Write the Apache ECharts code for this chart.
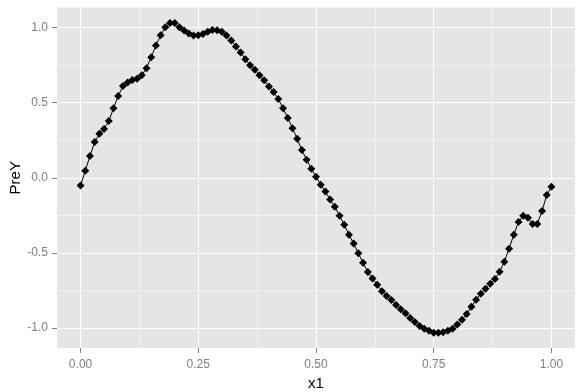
<!DOCTYPE html>
<html><head><meta charset="utf-8">
<script src="https://cdn.jsdelivr.net/npm/echarts@6/dist/echarts.min.js"></script>
<style>html,body{margin:0;padding:0;background:#fff}#c{width:580px;height:392px}</style>
</head><body><div id="c"></div>
<script>
var x1 = [];
for (var i = 0; i <= 100; i++) x1.push(i / 100);
var preY = [-0.052,0.047,0.144,0.237,0.292,0.325,0.378,0.462,0.544,0.610,
0.634,0.650,0.659,0.681,0.729,0.802,0.879,0.948,1.001,1.030,
1.030,1.001,0.979,0.959,0.946,0.948,0.957,0.972,0.983,0.981,
0.972,0.946,0.913,0.873,0.833,0.789,0.749,0.719,0.681,0.648,
0.607,0.570,0.524,0.462,0.398,0.330,0.259,0.184,0.120,0.060,
0.007,-0.046,-0.092,-0.145,-0.193,-0.253,-0.313,-0.379,-0.438,-0.503,
-0.566,-0.627,-0.671,-0.711,-0.755,-0.786,-0.813,-0.846,-0.875,-0.902,
-0.933,-0.959,-0.986,-1.004,-1.017,-1.031,-1.031,-1.028,-1.017,-1.004,
-0.977,-0.944,-0.906,-0.858,-0.811,-0.771,-0.738,-0.705,-0.674,-0.625,
-0.558,-0.472,-0.379,-0.295,-0.253,-0.266,-0.308,-0.308,-0.221,-0.115,
-0.060];
var xTicks = [0, 0.25, 0.5, 0.75, 1];
var xMinor = [0.125, 0.375, 0.625, 0.875];
var yTicks = [-1, -0.5, 0, 0.5, 1];
var yMinor = [-0.75, -0.25, 0.25, 0.75];

var data = x1.map(function (x, i) { return [x, preY[i]]; });
var XMIN = -0.05, XMAX = 1.05, YMIN = -1.1325, YMAX = 1.1325;
var font = 'Liberation Sans, Arial, sans-serif';

var chart = echarts.init(document.getElementById('c'), null, {renderer: 'canvas'});
chart.setOption({
  animation: false,
  backgroundColor: '#ffffff',
  grid: {left: 57, right: 5, top: 7.5, bottom: 44, show: true, backgroundColor: '#E5E5E5', borderWidth: 0,
    containLabel: false, outerBoundsMode: 'none'},
  xAxis: [{
    type: 'value', min: XMIN, max: XMAX, gridIndex: 0, position: 'bottom',
    axisLine: {show: false, onZero: false},
    axisTick: {show: false, customValues: xMinor},
    axisLabel: {show: false, customValues: xMinor},
    splitLine: {show: true, lineStyle: {color: '#F2F2F2', width: 1}}
  }, {
    type: 'value', min: XMIN, max: XMAX, gridIndex: 0, position: 'bottom',
    name: 'x1', nameLocation: 'middle', nameGap: 27,
    nameTextStyle: {color: '#000', fontSize: 15, fontFamily: font},
    axisLine: {show: false, onZero: false},
    axisTick: {show: true, length: 5, customValues: xTicks, lineStyle: {color: '#7F7F7F'}},
    axisLabel: {show: true, customValues: xTicks, color: '#7F7F7F', fontSize: 12, fontFamily: font, margin: 11,
      formatter: function (v) { return v.toFixed(2); }},
    splitLine: {show: true, lineStyle: {color: '#FFFFFF', width: 1}}
  }],
  yAxis: [{
    type: 'value', min: YMIN, max: YMAX, gridIndex: 0, position: 'left',
    axisLine: {show: false, onZero: false},
    axisTick: {show: false, customValues: yMinor},
    axisLabel: {show: false, customValues: yMinor},
    splitLine: {show: true, lineStyle: {color: '#F2F2F2', width: 1}}
  }, {
    type: 'value', min: YMIN, max: YMAX, gridIndex: 0, position: 'left',
    name: 'PreY', nameLocation: 'middle', nameGap: 34, nameRotate: 90, nameMoveOverlap: false,
    nameTextStyle: {color: '#000', fontSize: 15, fontFamily: font},
    axisLine: {show: false, onZero: false},
    axisTick: {show: true, length: 5, customValues: yTicks, lineStyle: {color: '#7F7F7F'}},
    axisLabel: {show: true, customValues: yTicks, color: '#7F7F7F', fontSize: 12, fontFamily: font, margin: 9,
      formatter: function (v) { return v.toFixed(1); }},
    splitLine: {show: true, lineStyle: {color: '#FFFFFF', width: 1}}
  }],
  series: [{
    type: 'line', xAxisIndex: 1, yAxisIndex: 1, data: data,
    symbol: 'diamond', symbolSize: 8, showSymbol: true,
    itemStyle: {color: '#000'},
    lineStyle: {color: '#000', width: 1}
  }]
});
</script></body></html>
